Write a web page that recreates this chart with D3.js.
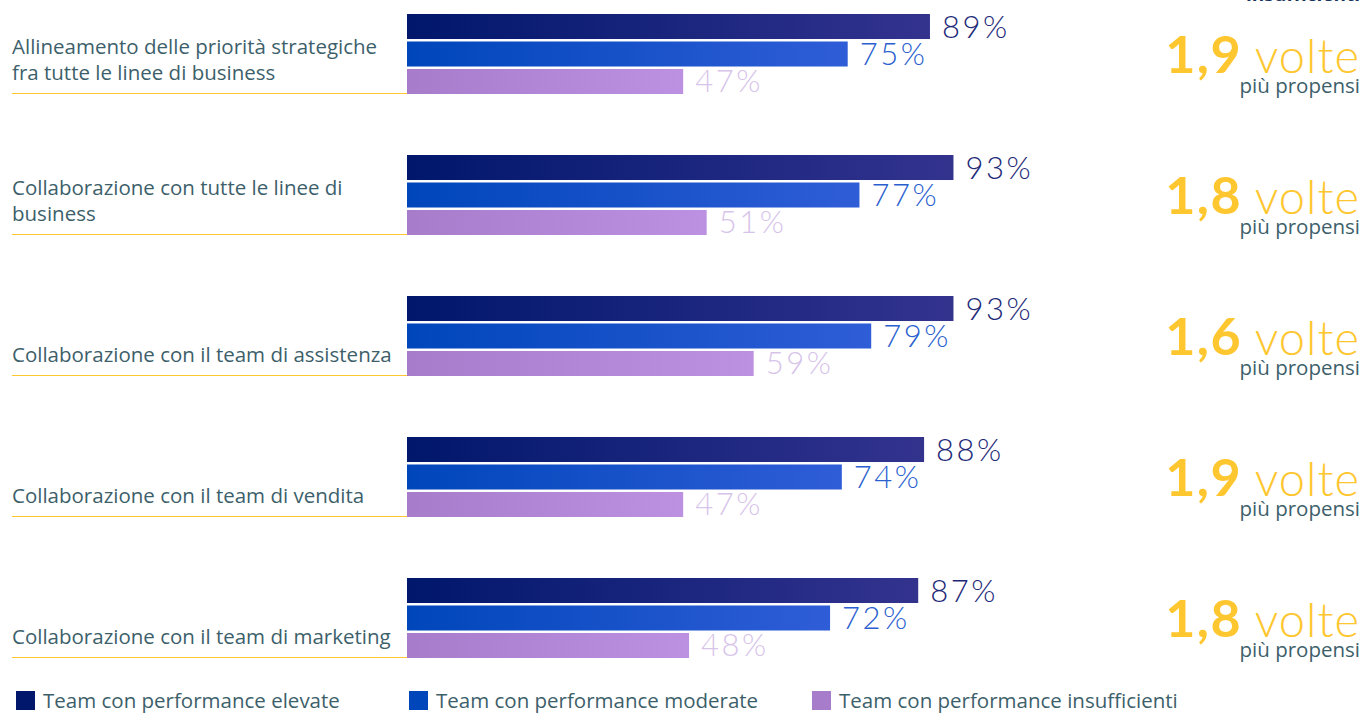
<!DOCTYPE html>
<html>
<head>
<meta charset="utf-8">
<script src="https://cdn.jsdelivr.net/npm/d3@7"></script>
<style>
  html, body { margin: 0; padding: 0; background: #fff; }
  svg { display: block; }
</style>
</head>
<body>
<svg id="chart" width="1365" height="713"></svg>
<script>
// Categories (labels may wrap onto two lines)
const categories = [
  ["Allineamento delle priorità strategiche", "fra tutte le linee di business"],
  ["Collaborazione con tutte le linee di", "business"],
  ["Collaborazione con il team di assistenza"],
  ["Collaborazione con il team di vendita"],
  ["Collaborazione con il team di marketing"]
];
const seriesNames = [
  "Team con performance elevate",
  "Team con performance moderate",
  "Team con performance insufficienti"
];
const elevate = [89, 93, 93, 88, 87];
const moderate = [75, 77, 79, 74, 72];
const insufficienti = [47, 51, 59, 47, 48];
const ratios = ["1,9", "1,8", "1,6", "1,9", "1,8"];

const series = [elevate, moderate, insufficienti];
const gradStops = [["#00176b", "#33338e"], ["#0046bb", "#2f5dd7"], ["#a77ccb", "#bd91e1"]];
const labelColors = ["#1e2a78", "#2b5fcf", "#d7c4ea"];
const textColor = "#3d5f6b";
const yellow = "#fec62f";

const svg = d3.select("#chart");
const defs = svg.append("defs");
gradStops.forEach((s, i) => {
  const g = defs.append("linearGradient").attr("id", "grad" + i)
    .attr("x1", "0%").attr("x2", "100%").attr("y1", "0%").attr("y2", "0%");
  g.append("stop").attr("offset", "0%").attr("stop-color", s[0]);
  g.append("stop").attr("offset", "100%").attr("stop-color", s[1]);
});

const x = d3.scaleLinear().domain([0, 100]).range([407, 994.6]);
const y = d3.scaleBand().domain(d3.range(categories.length)).range([14, 719]).paddingInner(0).paddingOuter(0);
const sub = d3.scaleBand().domain(d3.range(3)).range([0, 80]).paddingInner(0.09);

const fontMain = "'Open Sans', 'Lato', sans-serif";
const fontNum = "'Lato', 'Open Sans', sans-serif";
const labelSize = 20.5;

// Heading fragment at the top right, running off the top edge
svg.append("text").attr("x", 1360).attr("y", 1).attr("text-anchor", "end")
  .attr("font-family", fontMain).attr("font-weight", 700).attr("font-size", 19)
  .attr("fill", "#16325c").text("insufficienti");

const groups = svg.selectAll("g.group").data(categories).join("g")
  .attr("class", "group")
  .attr("transform", (d, i) => `translate(0,${y(i)})`);

// Baseline rule under each category label
groups.append("line")
  .attr("x1", 12).attr("x2", 407)
  .attr("y1", 79.5).attr("y2", 79.5)
  .attr("stroke", yellow).attr("stroke-width", 1.2);

// Category labels, bottom-aligned on the rule
groups.each(function(lines) {
  const g = d3.select(this);
  const n = lines.length;
  lines.forEach((t, k) => {
    g.append("text")
      .attr("x", 12)
      .attr("y", 66 - (n - 1 - k) * 26)
      .attr("font-family", fontMain)
      .attr("font-size", labelSize)
      .attr("fill", textColor)
      .text(t);
  });
});

// Bars and value labels
series.forEach((vals, s) => {
  groups.append("rect")
    .attr("x", x(0))
    .attr("y", sub(s))
    .attr("width", (d, i) => x(vals[i]) - x(0))
    .attr("height", sub.bandwidth())
    .attr("fill", `url(#grad${s})`);
  groups.append("text")
    .attr("x", (d, i) => x(vals[i]) + 12)
    .attr("y", sub(s) + sub.bandwidth() / 2 + 11)
    .attr("font-family", fontNum)
    .attr("font-weight", 300)
    .attr("font-size", 31)
    .attr("letter-spacing", 2.5)
    .attr("fill", labelColors[s])
    .text((d, i) => vals[i] + "%");
});

// Ratio callouts on the right
const callout = groups.append("text")
  .attr("x", 1360).attr("y", 59).attr("text-anchor", "end")
  .attr("fill", yellow).attr("font-family", fontNum);
callout.append("tspan").attr("font-weight", 700).attr("font-size", 52)
  .attr("letter-spacing", 1.5)
  .text((d, i) => ratios[i]);
callout.append("tspan").attr("font-weight", 300).attr("font-size", 47)
  .attr("letter-spacing", 1)
  .text(" volte");
groups.append("text")
  .attr("x", 1360).attr("y", 79).attr("text-anchor", "end")
  .attr("font-family", fontMain).attr("font-size", labelSize).attr("fill", textColor)
  .text("più propensi");

// Legend
const legendX = [16, 409, 812];
const legend = svg.selectAll("g.legend").data(seriesNames).join("g")
  .attr("class", "legend")
  .attr("transform", (d, i) => `translate(${legendX[i]},691)`);
legend.append("rect").attr("width", 19).attr("height", 19)
  .attr("fill", (d, i) => gradStops[i][0]);
legend.append("text").attr("x", 27).attr("y", 16.5)
  .attr("font-family", fontMain).attr("font-size", labelSize).attr("fill", textColor)
  .text(d => d);
</script>
</body>
</html>
